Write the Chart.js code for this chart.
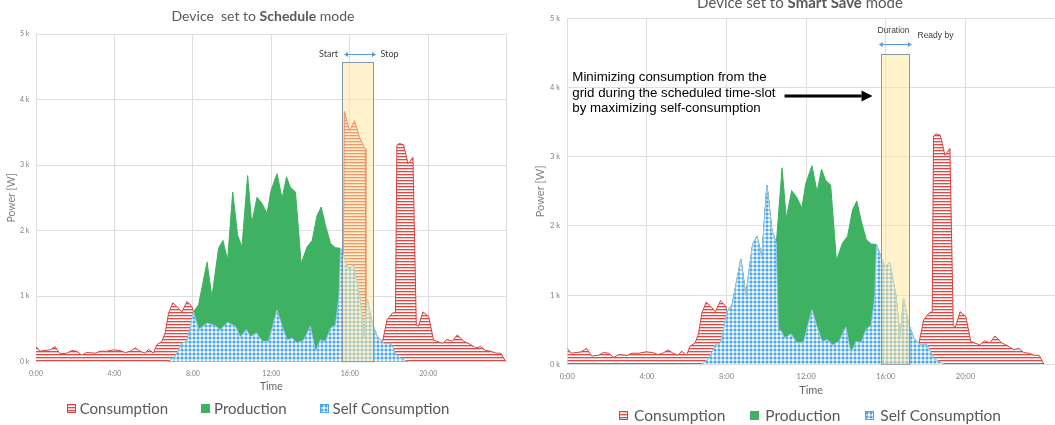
<!DOCTYPE html>
<html>
<head>
<meta charset="utf-8">
<script src="https://cdn.jsdelivr.net/npm/chart.js@4.4.1/dist/chart.umd.min.js"></script>
<style>
  html, body { margin: 0; padding: 0; background: #fff; overflow: hidden; }
  body { width: 1055px; height: 425px; position: relative; font-family: Lato, 'Open Sans', sans-serif; }
  canvas.plot { position: absolute; top: 0; }
  .title { position: absolute; text-align: center; color: #595959; white-space: pre; line-height: 18px; }
  .legend { position: absolute; display: flex; justify-content: center; align-items: center; color: #595959; line-height: 18px; white-space: nowrap; }
  .legend .item { display: flex; align-items: center; }
</style>
</head>
<body>
<canvas id="left" class="plot" width="520" height="425" style="left:0"></canvas>
<canvas id="right" class="plot" width="530" height="425" style="left:525px"></canvas>
<div class="title" style="left:0;width:526px;top:7px;font-size:14px">Device  set to <b>Schedule</b> mode</div>
<div class="title" style="left:535px;width:530px;top:-7px;font-size:15px">Device set to <b>Smart Save</b> mode</div>
<div id="legendLeft" class="legend" style="left:0;width:516px;top:399px;font-size:15px"></div>
<div id="legendRight" class="legend" style="left:545px;width:530px;top:406px;font-size:15.5px"></div>
<script>
// hours of the day / power in W
const seriesNames = ['Consumption', 'Production', 'Self Consumption'];
const tickHours = [0, 4, 8, 12, 16, 20, 24];

// grid consumption before the sun comes up (same in both charts)
const nightT = [0, 0.2, 0.7, 0.97, 1.23, 1.57, 1.82, 2.08, 2.33, 2.59,
  3.01, 3.27, 3.6, 3.95, 4.29, 4.55, 4.8, 5.06, 5.31, 5.57,
  5.74, 5.99, 6.16, 6.42, 6.59, 6.76, 6.98, 7.19, 7.44, 7.7,
  7.95];
const nightV = [230, 160, 180, 230, 120, 130, 170, 160, 100, 140,
  130, 160, 160, 180, 170, 140, 160, 210, 160, 130,
  190, 130, 260, 310, 440, 740, 900, 840, 760, 920,
  840];

// evening consumption (same in both charts)
const eveningT = [17.65, 17.9, 18.17, 18.33, 18.4, 18.52, 18.74, 18.97, 19.22, 19.39,
  19.5, 19.73, 20.02, 20.27, 20.72, 20.97, 21.23, 21.48, 21.82, 22.17,
  22.42, 22.68, 22.93, 23.19, 23.45, 23.7, 23.95];
const eveningV = [280, 640, 740, 760, 3300, 3330, 3310, 3020, 3120, 560,
  540, 760, 690, 330, 280, 340, 310, 410, 310, 260,
  210, 230, 170, 160, 130, 130, 0];

// daytime consumption, schedule mode (device runs 15:40 - 16:50)
const dayLeftT = [8.03, 8.29, 8.72, 9.06, 9.4, 9.77, 10.16, 10.42, 10.73, 10.93,
  11.24, 11.53, 11.86, 12.29, 12.55, 12.8, 13.06, 13.31, 13.65, 13.99,
  14.25, 14.5, 14.76, 15.02, 15.27, 15.66, 15.72, 15.99, 16.24, 16.5,
  16.74, 16.79, 16.82, 16.89, 17.14, 17.4];
const dayLeftV = [760, 490, 590, 560, 490, 600, 540, 380, 490, 380,
  440, 310, 310, 790, 540, 330, 360, 280, 330, 540,
  160, 330, 310, 510, 560, 600, 3820, 3520, 3680, 3420,
  3270, 3250, 600, 950, 590, 380];

// PV production (same day in both charts)
const prodT = [6.75, 7.1, 7.44, 7.7, 7.95, 8.03, 8.29, 8.72, 8.97, 9.31,
  9.53, 9.77, 10.03, 10.28, 10.5, 10.79, 11.0, 11.27, 11.53, 11.78,
  11.98, 12.29, 12.55, 12.77, 12.97, 13.23, 13.52, 13.82, 14.08, 14.33,
  14.54, 14.76, 15.02, 15.27, 15.53, 15.95, 16.2, 16.51, 16.72, 16.89,
  17.14, 17.4, 17.74, 18.08, 18.42, 18.93];
const prodV = [0, 80, 280, 310, 640, 760, 870, 1520, 990, 1730,
  1850, 1550, 2590, 1930, 1750, 2840, 2110, 2510, 2410, 2260,
  2610, 2870, 2490, 2820, 2660, 2590, 1500, 1750, 1850, 2230,
  2360, 2080, 1800, 1740, 1730, 1400, 1470, 990, 380, 950,
  590, 380, 280, 280, 80, 0];

// self consumption, schedule mode
const selfLeftT = [6.75, 7.1, 7.44, 7.7, 7.95, 8.03, 8.29, 8.72, 9.06, 9.4,
  9.77, 10.16, 10.42, 10.73, 10.93, 11.24, 11.53, 11.86, 12.29, 12.55,
  12.8, 13.06, 13.31, 13.65, 13.99, 14.25, 14.5, 14.76, 15.02, 15.27,
  15.45, 15.53, 15.95, 16.2, 16.51, 16.72, 16.89, 17.14, 17.4, 17.74,
  18.08, 18.42, 18.93];
const selfLeftV = [0, 80, 280, 310, 640, 760, 490, 590, 560, 490,
  600, 540, 380, 490, 380, 440, 310, 310, 790, 540,
  330, 360, 280, 330, 540, 160, 330, 310, 510, 560,
  1000, 1730, 1400, 1470, 990, 380, 950, 590, 380, 280,
  280, 80, 0];

// self consumption, smart save mode (device follows the morning sun)
const selfRightT = [6.75, 7.1, 7.44, 7.7, 7.95, 8.03, 8.29, 8.72, 8.97, 9.31,
  9.53, 9.77, 10.03, 10.28, 10.5, 10.6, 10.73, 10.93, 11.24, 11.53,
  11.86, 12.29, 12.55, 12.8, 13.06, 13.31, 13.65, 13.99, 14.25, 14.5,
  14.76, 15.02, 15.27, 15.45, 15.53, 15.95, 16.2, 16.51, 16.72, 16.89,
  17.14, 17.4, 17.74, 18.08, 18.42, 18.93];
const selfRightV = [0, 80, 280, 310, 640, 760, 870, 1520, 990, 1730,
  1850, 1550, 2590, 1930, 1750, 470, 490, 380, 440, 310,
  310, 790, 540, 330, 360, 280, 330, 540, 160, 330,
  310, 510, 560, 1000, 1730, 1400, 1470, 990, 380, 950,
  590, 380, 280, 280, 80, 0];

const consLeftT = nightT.concat(dayLeftT, eveningT);
const consLeftV = nightV.concat(dayLeftV, eveningV);
// in smart save mode all daytime consumption is covered by the panels
const consRightT = nightT.concat(selfRightT.slice(5, 42), eveningT);
const consRightV = nightV.concat(selfRightV.slice(5, 42), eveningV);

const RED = '#d8403c';
const GREEN = '#3fb162';
const BLUE = '#4ea6ea';

function hatch() {
  const c = document.createElement('canvas');
  c.width = 4; c.height = 3;
  const g = c.getContext('2d');
  g.fillStyle = '#fff';
  g.fillRect(0, 0, 4, 3);
  g.fillStyle = '#dd4a46';
  g.fillRect(0, 0, 4, 1);
  g.fillStyle = '#f4c4c2';
  g.fillRect(0, 1, 4, 1);
  return g.createPattern(c, 'repeat');
}

// small round blue dots on white, like the office "dotted diamond" fill
function dots() {
  const c = document.createElement('canvas');
  c.width = 4; c.height = 4;
  const g = c.getContext('2d');
  g.fillStyle = '#ffffff';
  g.fillRect(0, 0, 4, 4);
  g.fillStyle = '#a8d5f6';
  g.fillRect(1, 0, 2, 4);
  g.fillRect(0, 1, 4, 2);
  g.fillStyle = '#4aa8ef';
  g.fillRect(1, 1, 2, 2);
  return g.createPattern(c, 'repeat');
}

const fills = [hatch(), GREEN, dots()];
const borders = [RED, GREEN, '#8fcaf2'];

function pts(T, V) {
  return T.map((t, i) => ({ x: t, y: V[i] }));
}

function drawArrow(ctx, xa, xb, y, both, head, half) {
  ctx.beginPath();
  ctx.moveTo(both ? xa + head : xa, y);
  ctx.lineTo(xb - head, y);
  ctx.stroke();
  ctx.beginPath();
  ctx.moveTo(xb, y);
  ctx.lineTo(xb - head, y - half);
  ctx.lineTo(xb - head, y + half);
  ctx.closePath();
  ctx.fill();
  if (both) {
    ctx.beginPath();
    ctx.moveTo(xa, y);
    ctx.lineTo(xa + head, y - half);
    ctx.lineTo(xa + head, y + half);
    ctx.closePath();
    ctx.fill();
  }
}

// scheduled time-slot box with its labels
const slotPlugin = {
  id: 'slot',
  afterDatasetsDraw(chart, args, o) {
    const { ctx, chartArea: a, scales: { x, y } } = chart;
    const x1 = Math.round(x.getPixelForValue(o.from)) + 0.5;
    const x2 = Math.round(x.getPixelForValue(o.to)) + 0.5;
    const yt = Math.round(y.getPixelForValue(o.top)) + 0.5;
    const yb = y.getPixelForValue(0);
    ctx.save();
    ctx.fillStyle = 'rgba(255, 229, 153, 0.5)';
    ctx.fillRect(x1, yt, x2 - x1, yb - yt);
    ctx.strokeStyle = '#8797a6';
    ctx.lineWidth = 1;
    ctx.strokeRect(x1, yt, x2 - x1, yb - yt);

    ctx.strokeStyle = '#5b9bd5';
    ctx.fillStyle = '#5b9bd5';
    const ay = Math.round(yt - o.arrowGap) + 0.5;
    drawArrow(ctx, x1 + o.arrowFrom, x2 + o.arrowTo, ay, true, 4, 2.5);

    ctx.fillStyle = '#404040';
    ctx.font = o.labelFont;
    ctx.textBaseline = 'middle';
    if (o.mode === 'schedule') {
      ctx.textAlign = 'right';
      ctx.fillText(o.labels[0], x1 - 4.5, ay);
      ctx.textAlign = 'left';
      ctx.fillText(o.labels[1], x2 + 7, ay);
    } else {
      ctx.textAlign = 'center';
      ctx.fillText(o.labels[0], (x1 + x2) / 2 - 2, yt - 24);
      ctx.textAlign = 'left';
      ctx.fillText(o.labels[1], x2 + 8, yt - 18.5);

      ctx.fillStyle = '#000';
      ctx.font = '13.3px "Liberation Sans", Arial, sans-serif';
      const tx = a.left + 5;
      o.note.forEach((line, i) => ctx.fillText(line, tx, a.top + 59.5 + i * 15.4));
      const ax = tx + ctx.measureText(o.note[1]).width + 9;
      ctx.strokeStyle = '#000';
      ctx.lineWidth = 3;
      drawArrow(ctx, ax, x1 - 9, a.top + 77.7, false, 11, 5.5);
    }
    ctx.restore();
  }
};

Chart.defaults.font.family = 'Lato, "Open Sans", sans-serif';

function makeChart(id, consT, consV, selfT, selfV, g, slot) {
  const series = [pts(consT, consV), pts(prodT, prodV), pts(selfT, selfV)];
  return new Chart(document.getElementById(id), {
    type: 'line',
    data: {
      datasets: series.map((d, i) => ({
        label: seriesNames[i],
        data: d,
        backgroundColor: fills[i],
        borderColor: borders[i],
        borderWidth: 1,
        fill: 'origin',
        order: 3 - i,
        pointRadius: 0,
        tension: 0
      }))
    },
    options: {
      responsive: false,
      animation: false,
      events: [],
      devicePixelRatio: 1,
      layout: { padding: { top: g.top, right: g.right, bottom: g.bottom, left: 0 } },
      scales: {
        x: {
          type: 'linear',
          min: 0,
          max: g.xMax,
          afterBuildTicks: s => { s.ticks = g.ticks.map(v => ({ value: v })); },
          afterFit: s => { s.height = g.xHeight; },
          ticks: {
            padding: g.xPad,
            color: '#7f7f7f',
            font: { size: g.tick },
            maxRotation: 0,
            callback: v => (v < 24 ? v + ':00' : '')
          },
          grid: { color: '#dedede', drawTicks: false },
          border: { color: '#dedede' },
          title: { display: true, text: 'Time', color: '#666', font: { size: g.axis }, padding: 0 }
        },
        y: {
          min: 0,
          max: 5000,
          afterFit: s => { s.width = g.yWidth; },
          ticks: {
            stepSize: 1000,
            padding: g.yPad,
            color: '#7f7f7f',
            font: { size: g.tick },
            callback: v => v / 1000 + ' k'
          },
          grid: { color: '#dedede', drawTicks: false },
          border: { color: '#dedede' },
          title: { display: true, text: 'Power [W]', color: '#7f7f7f', font: { size: g.axis }, padding: { top: g.yTitlePad, bottom: 0 } }
        }
      },
      plugins: {
        legend: { display: false },
        tooltip: { enabled: false },
        slot: slot
      }
    },
    plugins: [slotPlugin]
  });
}

makeChart('left', consLeftT, consLeftV, selfLeftT, selfLeftV, {
  top: 34, right: 13.3, bottom: 32, xHeight: 31.3, xMax: 24, ticks: tickHours,
  xPad: 7.4, yPad: 6.7, yWidth: 36, tick: 7, axis: 10.5, yTitlePad: 5.4
}, {
  mode: 'schedule', from: 15.58, to: 17.18, top: 4580, arrowGap: 8.5,
  arrowFrom: 1.5, arrowTo: 2.5, labels: ['Start', 'Stop'], labelFont: '9px Lato'
});

makeChart('right', consRightT, consRightV, selfRightT, selfRightV, {
  top: 18.3, right: 0, bottom: 28.4, xHeight: 32.3, xMax: 24.5, ticks: tickHours.slice(0, 6),
  xPad: 7.5, yPad: 7.3, yWidth: 42.3, tick: 7.5, axis: 11, yTitlePad: 9.1
}, {
  mode: 'smart', from: 15.76, to: 17.17, top: 4490, arrowGap: 10.6,
  arrowFrom: -2.7, arrowTo: 2.4, labels: ['Duration', 'Ready by'],
  labelFont: '8.5px "Liberation Sans", Arial, sans-serif',
  note: ['Minimizing consumption from the', 'grid during the scheduled time-slot', 'by maximizing self-consumption']
});

// html legends with the same fills as the datasets
function legend(id, gapText, gapItem) {
  const el = document.getElementById(id);
  seriesNames.forEach((name, i) => {
    const item = document.createElement('span');
    item.className = 'item';
    if (i > 0) item.style.marginLeft = gapItem + 'px';
    const sw = document.createElement('canvas');
    sw.width = 9; sw.height = 9;
    sw.style.marginRight = gapText + 'px';
    const g = sw.getContext('2d');
    g.fillStyle = fills[i];
    g.fillRect(0, 0, 9, 9);
    if (i !== 1) {
      g.strokeStyle = borders[i] === RED ? RED : BLUE;
      g.strokeRect(0.5, 0.5, 8, 8);
    }
    item.appendChild(sw);
    const txt = document.createElement('span');
    txt.textContent = name;
    item.appendChild(txt);
    el.appendChild(item);
  });
}
legend('legendLeft', 4, 33);
legend('legendRight', 6, 25);
</script>
</body>
</html>
